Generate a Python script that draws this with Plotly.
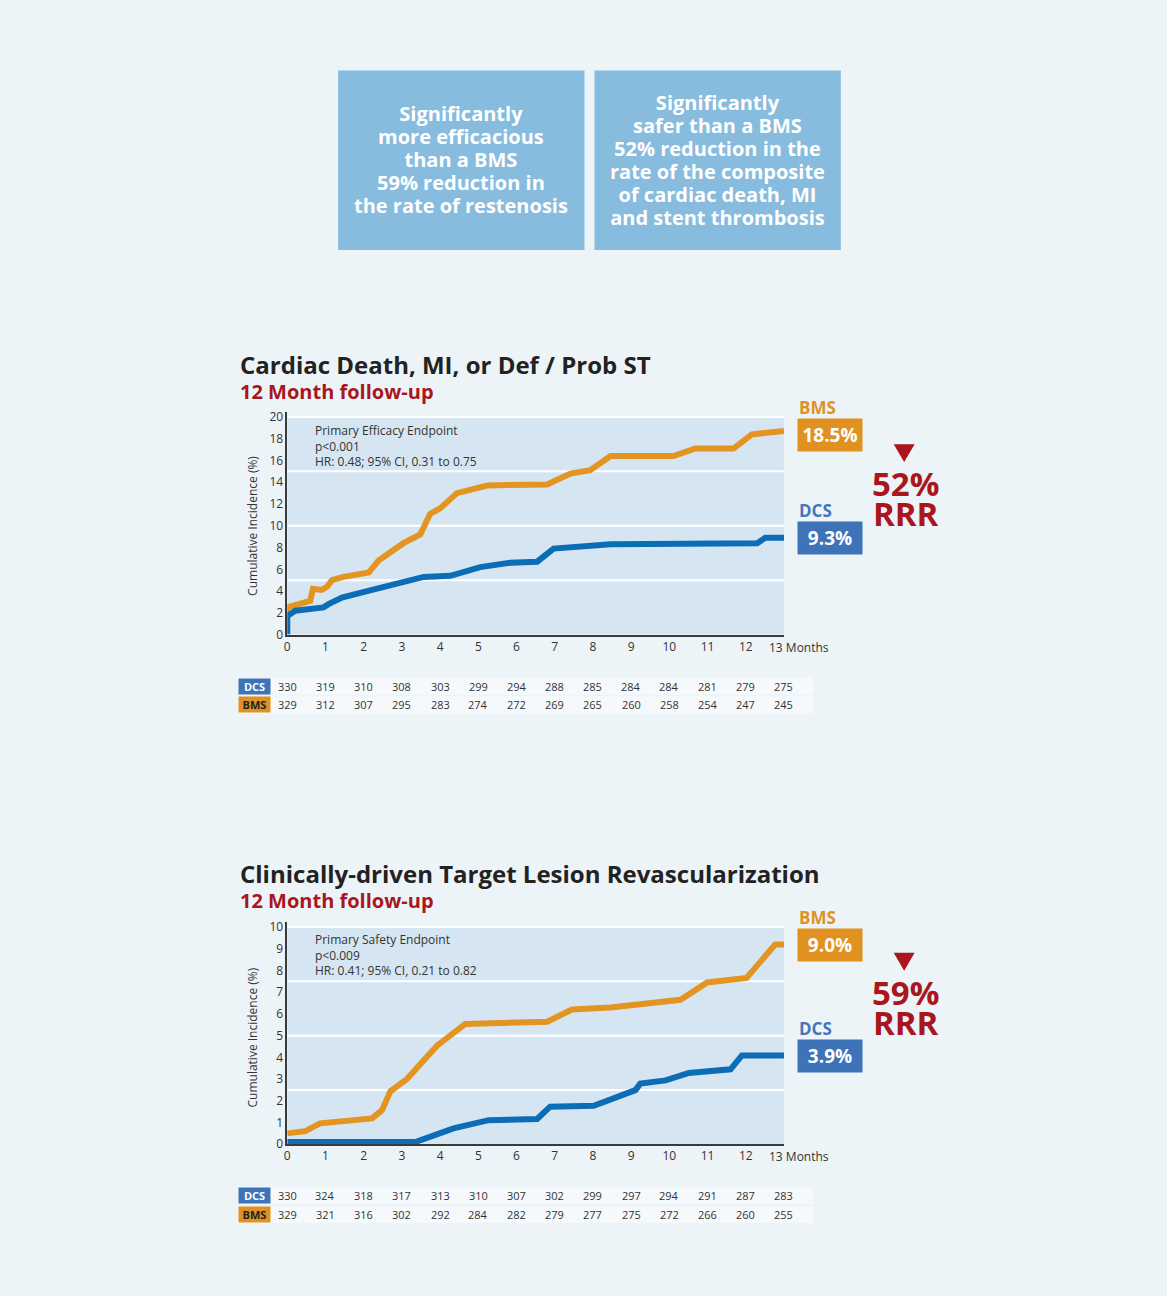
import plotly.graph_objects as go

W, H = 1167, 1296
def X(px): return px / W
def Y(py): return 1 - py / H

# ---------------- data ----------------
months = list(range(14))
tick_labels = [str(m) for m in range(13)] + [""]

# Chart 1: Cardiac Death, MI, or Def / Prob ST
c1_bms_m = [0, 0, 0.6, 0.67, 0.9, 1.04, 1.17, 1.47, 2.13, 2.39, 3.04, 3.48, 3.74, 4.0, 4.44, 4.79, 5.23, 6.8, 7.41, 7.93, 8.46, 10.11, 10.68, 11.68, 12.16, 13.0]
c1_bms_v = [2.0, 2.5, 3.1, 4.2, 4.1, 4.4, 5.0, 5.3, 5.7, 6.8, 8.4, 9.2, 11.1, 11.6, 13.0, 13.3, 13.7, 13.8, 14.8, 15.1, 16.4, 16.4, 17.1, 17.1, 18.4, 18.7]
c1_dcs_m = [0, 0, 0.21, 0.95, 1.08, 1.43, 2.09, 2.87, 3.57, 4.27, 5.05, 5.84, 6.54, 6.97, 8.46, 12.3, 12.51, 13.0]
c1_dcs_v = [0, 1.7, 2.2, 2.5, 2.8, 3.4, 4.0, 4.7, 5.3, 5.4, 6.2, 6.6, 6.7, 7.9, 8.3, 8.4, 8.9, 8.9]
c1_dcs_n = [330, 319, 310, 308, 303, 299, 294, 288, 285, 284, 284, 281, 279, 275]
c1_bms_n = [329, 312, 307, 295, 283, 274, 272, 269, 265, 260, 258, 254, 247, 245]
c1_ticks = list(range(0, 21, 2))
c1_grid = [5, 10, 15]

# Chart 2: Clinically-driven TLR
c2_bms_m = [0, 0.47, 0.86, 2.22, 2.48, 2.7, 3.13, 3.48, 3.92, 4.66, 6.8, 7.45, 8.46, 10.29, 10.99, 12.02, 12.77, 13.0]
c2_bms_v = [0.5, 0.6, 0.96, 1.19, 1.57, 2.44, 3.0, 3.7, 4.54, 5.54, 5.64, 6.2, 6.3, 6.65, 7.45, 7.66, 9.2, 9.2]
c2_dcs_m = [0, 3.35, 4.35, 5.27, 6.54, 6.88, 8.02, 9.11, 9.24, 9.9, 10.51, 11.6, 11.9, 13.0]
c2_dcs_v = [0.1, 0.1, 0.73, 1.11, 1.16, 1.73, 1.77, 2.49, 2.79, 2.94, 3.28, 3.45, 4.09, 4.09]
c2_dcs_n = [330, 324, 318, 317, 313, 310, 307, 302, 299, 297, 294, 291, 287, 283]
c2_bms_n = [329, 321, 316, 302, 292, 284, 282, 279, 277, 275, 272, 266, 260, 255]
c2_ticks = list(range(0, 11))
c2_grid = [2.5, 5, 7.5]

box1_lines = ["Significantly", "more efficacious", "than a BMS", "59% reduction in", "the rate of restenosis"]
box2_lines = ["Significantly", "safer than a BMS", "52% reduction in the", "rate of the composite", "of cardiac death, MI", "and stent thrombosis"]

# ---------------- styles ----------------
FONT = "Open Sans"
PAGE_BG = "#edf4f8"
PLOT_BG = "#d5e6f2"
ORANGE = "#e39421"
BLUE = "#0b6db6"
ORANGE_BOX = "#e0911f"
BLUE_BOX = "#3e73b8"
RED = "#a9161e"
DARK = "#222222"
TXT = "#333333"
BOX = "#87bcde"

def sized(text, px):
    return f'<span style="font-size:{px}px">{text}</span>'

fig = go.Figure()

fig.add_trace(go.Scatter(x=c1_bms_m, y=c1_bms_v, mode="lines", line=dict(color=ORANGE, width=6), xaxis="x", yaxis="y", showlegend=False))
fig.add_trace(go.Scatter(x=c1_dcs_m, y=c1_dcs_v, mode="lines", line=dict(color=BLUE, width=6), xaxis="x", yaxis="y", showlegend=False))
fig.add_trace(go.Scatter(x=c2_bms_m, y=c2_bms_v, mode="lines", line=dict(color=ORANGE, width=6), xaxis="x2", yaxis="y2", showlegend=False))
fig.add_trace(go.Scatter(x=c2_dcs_m, y=c2_dcs_v, mode="lines", line=dict(color=BLUE, width=6), xaxis="x2", yaxis="y2", showlegend=False))

xdom = [X(285), X(783)]
common_x = dict(range=[0, 13], domain=xdom, tickmode="array", tickvals=months, ticktext=tick_labels,
                showgrid=False, zeroline=False, showline=True, linecolor="#3a3a3a", linewidth=1.5,
                ticks="", tickfont=dict(family=FONT, size=12, color=TXT), fixedrange=True)
common_y = dict(showgrid=False, zeroline=False, showline=True, linecolor="#3a3a3a", linewidth=1.5,
                ticks="", tickfont=dict(family=FONT, size=12, color=TXT), tickmode="array", fixedrange=True)

fig.update_layout(
    width=W, height=H, margin=dict(l=0, r=0, t=0, b=0),
    paper_bgcolor=PAGE_BG, plot_bgcolor=PAGE_BG,
    font=dict(family=FONT, color=TXT),
    xaxis=dict(**common_x, anchor="y"),
    yaxis=dict(**common_y, range=[0, 20.5], domain=[Y(637), Y(412)], tickvals=c1_ticks, anchor="x"),
    xaxis2=dict(**common_x, anchor="y2"),
    yaxis2=dict(**common_y, range=[0, 10.25], domain=[Y(1151), Y(926.5)], tickvals=c2_ticks, anchor="x2"),
)

shapes = []
annos = []

# plot background rectangles and gridlines
for xr, yr, top, grid in [("x", "y", 20, c1_grid), ("x2", "y2", 10, c2_grid)]:
    shapes.append(dict(type="rect", xref=xr, yref=yr, x0=0, x1=13, y0=0, y1=top,
                       fillcolor=PLOT_BG, line=dict(width=0), layer="below"))
    for g in grid + [top]:
        shapes.append(dict(type="line", xref=xr, yref=yr, x0=0, x1=13, y0=g, y1=g,
                           line=dict(color="white", width=2), layer="below"))

# top info boxes (base font sets 23px line pitch; spans set glyph size)
for x0, x1, lines in [(336, 583, box1_lines), (593, 840, box2_lines)]:
    shapes.append(dict(type="rect", xref="paper", yref="paper", x0=X(x0), x1=X(x1), y0=Y(249), y1=Y(68),
                       fillcolor=BOX, line=dict(width=0)))
    annos.append(dict(xref="paper", yref="paper", x=X((x0 + x1) / 2), y=Y(158),
                      text="<br>".join(sized(ln, 20) for ln in lines),
                      showarrow=False, xanchor="center", yanchor="middle", align="center",
                      font=dict(family=FONT, size=17.7, color="white", weight="bold")))

def chart_block(xr, title, ty, note, note_y, ytitle_y, pct_bms, bms_y, pct_dcs, dcs_y, rrr, rrr_y,
                tbl_y, dcs_n, bms_n):
    # title + subtitle (one text, 25px line pitch)
    annos.append(dict(xref="paper", yref="paper", x=X(236), y=Y(ty + 12.5),
                      text=f'<span style="font-size:24px;color:{DARK}">{title}</span><br>'
                           f'<span style="font-size:20px;color:{RED}">12 Month follow-up</span>',
                      showarrow=False, xanchor="left", yanchor="middle", align="left",
                      font=dict(family=FONT, size=19.2, color=DARK, weight="bold")))
    # note inside plot
    annos.append(dict(xref="paper", yref="paper", x=X(311), y=Y(note_y), text="<br>".join(note), showarrow=False,
                      xanchor="left", yanchor="middle", align="left", font=dict(family=FONT, size=12, color=TXT)))
    # y title
    annos.append(dict(xref="paper", yref="paper", x=X(250), y=Y(ytitle_y), text="Cumulative Incidence (%)",
                      showarrow=False, textangle=-90, xanchor="center", yanchor="middle",
                      font=dict(family=FONT, size=12, color=TXT)))
    # 13 Months label
    yr = "y" if xr == "x" else "y2"
    annos.append(dict(xref=xr, yref=yr + " domain", x=13, y=0, text="13 Months", showarrow=False,
                      xanchor="left", yanchor="top", xshift=-17, yshift=-2, font=dict(family=FONT, size=12, color=TXT)))
    # right labels
    annos.append(dict(xref="paper", yref="paper", x=X(796), y=Y(bms_y - 12), text="BMS", showarrow=False,
                      xanchor="left", yanchor="middle", font=dict(family=FONT, size=17, color=ORANGE_BOX, weight="bold")))
    annos.append(dict(xref="paper", yref="paper", x=X(829), y=Y(bms_y + 16), text=pct_bms, showarrow=False,
                      xanchor="center", yanchor="middle", width=64, height=32, bgcolor=ORANGE_BOX, borderpad=0,
                      font=dict(family=FONT, size=19, color="white", weight="bold")))
    annos.append(dict(xref="paper", yref="paper", x=X(796), y=Y(dcs_y - 12), text="DCS", showarrow=False,
                      xanchor="left", yanchor="middle", font=dict(family=FONT, size=17, color="#4375ba", weight="bold")))
    annos.append(dict(xref="paper", yref="paper", x=X(829), y=Y(dcs_y + 16), text=pct_dcs, showarrow=False,
                      xanchor="center", yanchor="middle", width=64, height=32, bgcolor=BLUE_BOX, borderpad=0,
                      font=dict(family=FONT, size=19, color="white", weight="bold")))
    # triangle + RRR (one text, 30px line pitch)
    shapes.append(dict(type="path", xref="paper", yref="paper",
                       path=f"M {X(893)},{Y(rrr_y - 40)} L {X(914)},{Y(rrr_y - 40)} L {X(903.5)},{Y(rrr_y - 22)} Z",
                       fillcolor=RED, line=dict(width=0)))
    annos.append(dict(xref="paper", yref="paper", x=X(905), y=Y(rrr_y + 15),
                      text=sized(rrr, 33) + "<br>" + sized("RRR", 33), showarrow=False,
                      xanchor="center", yanchor="middle", align="center",
                      font=dict(family=FONT, size=23, color=RED, weight="bold")))
    # table
    for k, (lab, nums, bg, fc) in enumerate([("DCS", dcs_n, BLUE_BOX, "white"), ("BMS", bms_n, ORANGE_BOX, DARK)]):
        ry = tbl_y + 19 * k
        shapes.append(dict(type="rect", xref="paper", yref="paper", x0=X(236), x1=X(812), y0=Y(ry + 8.5), y1=Y(ry - 8.5),
                           fillcolor="#f6f9fb", line=dict(width=0), layer="below"))
        annos.append(dict(xref="paper", yref="paper", x=X(252.5), y=Y(ry), text=lab, showarrow=False,
                          xanchor="center", yanchor="middle", width=31, height=15, bgcolor=bg, borderpad=0,
                          font=dict(family=FONT, size=11, color=fc, weight="bold")))
        for m, n in zip(months, nums):
            annos.append(dict(xref=xr, yref="paper", x=m, y=Y(ry), text=str(n), showarrow=False,
                              xanchor="center", yanchor="middle", font=dict(family=FONT, size=11, color=TXT)))

chart_block("x", "Cardiac Death, MI, or Def / Prob ST", 364,
            ["Primary Efficacy Endpoint", "p<0.001", "HR: 0.48; 95% CI, 0.31 to 0.75"], 447, 527,
            "18.5%", 420, "9.3%", 524, "52%", 485, 689, c1_dcs_n, c1_bms_n)
chart_block("x2", "Clinically-driven Target Lesion Revascularization", 878,
            ["Primary Safety Endpoint", "p<0.009", "HR: 0.41; 95% CI, 0.21 to 0.82"], 960, 1043,
            "9.0%", 934, "3.9%", 1046, "59%", 998, 1203, c2_dcs_n, c2_bms_n)

fig.update_layout(shapes=shapes, annotations=annos)
fig.write_html("out.html", config={"displayModeBar": False},
               post_script="document.body.style.margin='0';document.body.style.background='" + PAGE_BG + "';")
